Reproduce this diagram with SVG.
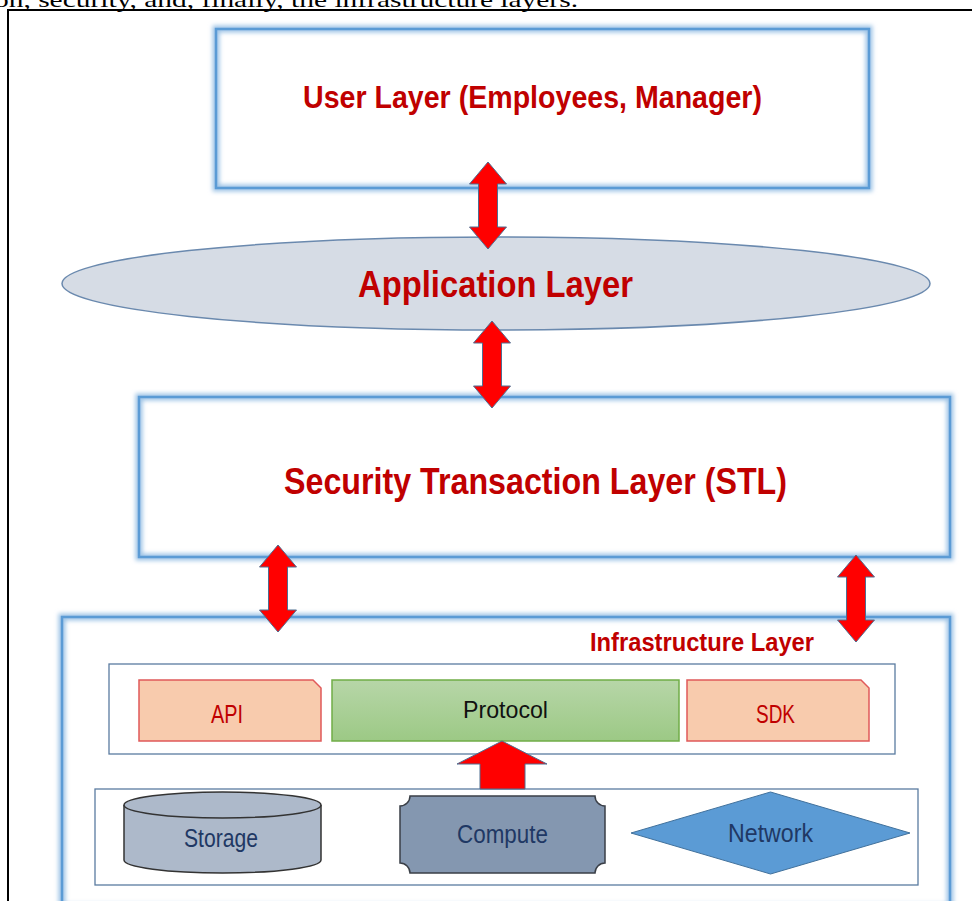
<svg xmlns="http://www.w3.org/2000/svg" width="972" height="901" viewBox="0 0 972 901">
  <defs>
    <style>
      .title { font-family: "Liberation Sans", Arial, sans-serif; font-weight: bold; fill: #C00000; }
      .label { font-family: "Liberation Sans", Arial, sans-serif; }
      .layer-glow { fill: none; stroke: #9DC3E6; stroke-width: 7; filter: url(#soft); }
      .layer-line { fill: none; stroke: #5B9BD5; stroke-width: 2.5; }
      .frame { fill: #ffffff; stroke: #5A7BA0; stroke-width: 1.3; }
      .arrow { fill: #FF0000; stroke: #4F6E91; stroke-width: 1; }
      .tab { fill: #F8CBAD; stroke: #E05A5A; stroke-width: 1.5; }
      .infra-text { fill: #1F3864; }
    </style>
    <filter id="soft" x="-5%" y="-5%" width="110%" height="110%">
      <feGaussianBlur stdDeviation="2"/>
    </filter>
    <linearGradient id="green" x1="0" y1="0" x2="0" y2="1">
      <stop offset="0" stop-color="#B7D6A8"/>
      <stop offset="1" stop-color="#9CC985"/>
    </linearGradient>
    <!-- double-headed vertical block arrow, 87 px tall, centred on x=0 -->
    <path id="dbl" class="arrow" d="M0,0 L18.5,22 L9.5,22 L9.5,65 L18.5,65 L0,87 L-18.5,65 L-9.5,65 L-9.5,22 L-18.5,22 Z"/>
  </defs>

  <rect width="972" height="901" fill="#ffffff"/>

  <!-- running text line above the figure frame -->
  <text x="-6" y="7" font-family="'Liberation Serif', 'Times New Roman', serif" font-size="21" fill="#000000" textLength="584" lengthAdjust="spacingAndGlyphs">on, security, and, finally, the infrastructure layers.</text>

  <!-- figure frame -->
  <path d="M8,903 V10 H975" fill="none" stroke="#000000" stroke-width="2"/>

  <!-- user layer -->
  <g id="user-layer">
    <rect class="layer-glow" x="216" y="29" width="653" height="159"/>
    <rect class="layer-line" x="216" y="29" width="653" height="159"/>
    <text class="title" x="532.5" y="108" font-size="32" text-anchor="middle" textLength="459" lengthAdjust="spacingAndGlyphs">User Layer (Employees, Manager)</text>
  </g>

  <!-- application layer -->
  <g id="application-layer">
    <ellipse cx="496" cy="283.5" rx="434" ry="46.5" fill="#D6DCE5" stroke="#6A89AE" stroke-width="1.5"/>
    <text class="title" x="495.5" y="297" font-size="36" text-anchor="middle" textLength="275" lengthAdjust="spacingAndGlyphs">Application Layer</text>
  </g>

  <!-- security transaction layer -->
  <g id="stl-layer">
    <rect class="layer-glow" x="139" y="397" width="811" height="160"/>
    <rect class="layer-line" x="139" y="397" width="811" height="160"/>
    <text class="title" x="535.5" y="494" font-size="37" text-anchor="middle" textLength="503" lengthAdjust="spacingAndGlyphs">Security Transaction Layer (STL)</text>
  </g>

  <!-- infrastructure layer -->
  <g id="infrastructure-layer">
    <rect class="layer-glow" x="62" y="617" width="888" height="290"/>
    <rect class="layer-line" x="62" y="617" width="888" height="290"/>
    <text class="title" x="702" y="651" font-size="25" text-anchor="middle" textLength="224" lengthAdjust="spacingAndGlyphs">Infrastructure Layer</text>
  </g>

  <!-- interface row -->
  <g id="interface-row">
    <rect class="frame" x="109" y="664" width="786" height="90"/>
  </g>

  <g id="api">
    <path class="tab" d="M139,680 H313 L321,688 V741 H139 Z"/>
    <text class="label" x="227" y="723" font-size="25" fill="#C00000" text-anchor="middle" textLength="32" lengthAdjust="spacingAndGlyphs">API</text>
  </g>

  <g id="protocol">
    <rect x="332" y="680" width="347" height="61" fill="url(#green)" stroke="#70AD47" stroke-width="1.5"/>
    <text class="label" x="505.5" y="718" font-size="24" fill="#111111" text-anchor="middle" textLength="85" lengthAdjust="spacingAndGlyphs">Protocol</text>
  </g>

  <g id="sdk">
    <path class="tab" d="M687,680 H861 L869,688 V741 H687 Z"/>
    <text class="label" x="775.5" y="723" font-size="25" fill="#C00000" text-anchor="middle" textLength="39" lengthAdjust="spacingAndGlyphs">SDK</text>
  </g>

  <!-- resource row -->
  <g id="resource-row">
    <rect class="frame" x="95" y="789" width="823" height="96"/>
  </g>

  <g id="storage">
    <path d="M124,805 V860 A98.5,13 0 0 0 321,860 V805" fill="#ADB9CA" stroke="#333333" stroke-width="1.5"/>
    <ellipse cx="222.5" cy="805" rx="98.5" ry="13" fill="#ADB9CA" stroke="#333333" stroke-width="1.5"/>
    <text class="label infra-text" x="221" y="847" font-size="25" text-anchor="middle" textLength="74" lengthAdjust="spacingAndGlyphs">Storage</text>
  </g>

  <g id="compute">
    <path d="M410,796 H595 A10,10 0 0 0 605,806 V863 A10,10 0 0 0 595,873 H410 A10,10 0 0 0 400,863 V806 A10,10 0 0 0 410,796 Z" fill="#8497B0" stroke="#3A3F47" stroke-width="1.5"/>
    <text class="label infra-text" x="502.5" y="843" font-size="25" text-anchor="middle" textLength="91" lengthAdjust="spacingAndGlyphs">Compute</text>
  </g>

  <g id="network">
    <polygon points="770.5,792 910,833 770.5,874 631,833" fill="#5B9BD5" stroke="#41719C" stroke-width="1"/>
    <text class="label infra-text" x="770.5" y="842" font-size="25" text-anchor="middle" textLength="85" lengthAdjust="spacingAndGlyphs">Network</text>
  </g>

  <!-- connectors between layers -->
  <g id="connectors">
    <use href="#dbl" transform="translate(488,162)"/>
    <use href="#dbl" transform="translate(492,321)"/>
    <use href="#dbl" transform="translate(278,545)"/>
    <use href="#dbl" transform="translate(856,555)"/>
    <path class="arrow" d="M502,741 L547,764 L525,764 L525,789 L480,789 L480,764 L457,764 Z"/>
  </g>
</svg>
